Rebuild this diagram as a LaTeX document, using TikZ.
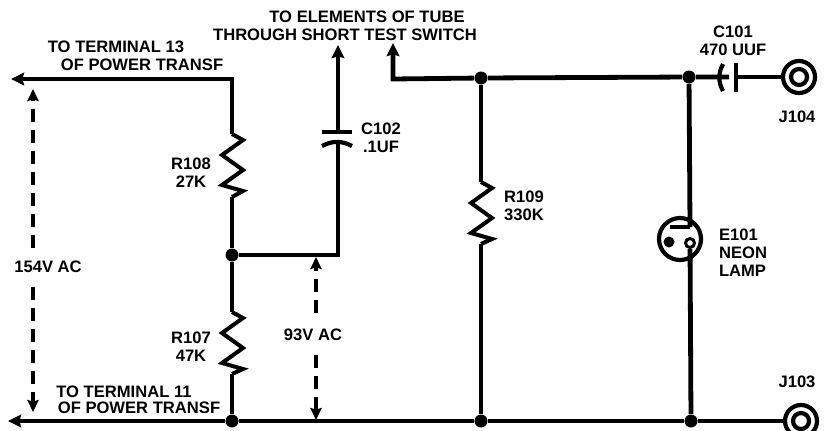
\documentclass[tikz,border=0pt]{standalone}
\usepackage{fontspec}
\setmainfont{Liberation Sans}
\usepackage{tikz}
\usetikzlibrary{arrows.meta}

\begin{document}
\begin{tikzpicture}[x=0.5pt,y=-0.5pt,
  wire/.style={line width=2.4pt,line join=miter},
  wire tip/.style={wire,-{Stealth[length=6.5pt,width=6.2pt,inset=0.8pt]}},
  volt/.style={line width=2.1pt,dash pattern=on 6.5pt off 4pt,-{Stealth[length=6pt,width=5.6pt,inset=0.8pt]}},
  plate/.style={line width=2.1pt},
  res/.style={line width=2pt,line join=miter},
  ring/.style={circle,draw,line width=2.1pt,inner sep=0pt},
  dot/.style={circle,fill,inner sep=0pt,minimum size=6.5pt},
  label/.style={font=\fontsize{8.3}{9}\selectfont\bfseries,inner sep=0pt,align=center}]

\useasboundingbox (0,0) rectangle (838,430);

% junctions and jacks
\node[dot] (n1) at (232,255) {};
\node[dot] (n2) at (232,421) {};
\node[dot] (n3) at (481,78) {};
\node[dot] (n4) at (481,421) {};
\node[dot] (n5) at (689,77) {};
\node[dot] (n6) at (691,421) {};
\node[ring,minimum size=16pt] (j104) at (799,77) {};
\node[ring,minimum size=8pt] (j104i) at (799,77) {};
\node[ring,minimum size=16pt] (j103) at (801,421) {};
\node[ring,minimum size=8pt] (j103i) at (801,421) {};

% free ends
\coordinate (t13) at (11,79);
\coordinate (t11) at (8,421);
\coordinate (tl) at (232,79);
\coordinate (a1) at (338,45);
\coordinate (a2) at (393,43);
\coordinate (a3) at (393,79);
\coordinate (c2a) at (338,132);
\coordinate (c2b) at (338,142);
\coordinate (c2c) at (338,255);
\coordinate (c1a) at (729,77);
\coordinate (c1b) at (736,77);

% resistors
\foreach \name/\x/\y/\h in {r108/232/134/63,r107/232/312/62,r109/481/182/62}{
  \coordinate (\name a) at (\x,\y);
  \coordinate (\name b) at (\x,\y+\h);
  \draw[res] (\name a) -- ++(11,6) -- ++(-21,15) -- ++(21,15) -- ++(-21,15) -- ++(21,6) -- (\name b);
}

% wires
\draw[wire tip] (r108a) -- (tl) -- (t13);
\draw[wire] (r108b) -- (n1) -- (r107a);
\draw[wire] (r107b) -- (n2);
\draw[wire tip] (n2) -- (t11);
\draw[wire] (n2) -- (n4) -- (n6) -- (j103);
\draw[wire tip] (c2a) -- (a1);
\draw[wire] (n1) -- (c2c) -- (c2b);
\draw[wire tip] (n3) -- (a3) -- (a2);
\draw[wire] (n3) -- (n5) -- (c1a);
\draw[wire] (c1b) -- (j104);
\draw[wire] (n3) -- (r109a);
\draw[wire] (r109b) -- (n4);

% capacitors
\draw[plate] (322,132) -- (352,132);
\draw[plate] (322,146) to[bend left=28] (352,146);
\draw[plate] (736,63) -- (736,92);
\draw[plate] (723,64) to[bend right=28] (723,91);

% lamp
\node[ring,minimum size=21pt] (e101) at (680,239) {};
\node[dot,minimum size=5.5pt] (e101k) at (669,242) {};
\node[ring,line width=1.5pt,minimum size=4.5pt] (e101a) at (690,243) {};
\coordinate (e101t) at (690,227);
\coordinate (e101l) at (670,227);
\draw[wire] (n5) -- (e101t);
\draw[plate] (e101t) -- (e101l);
\draw[wire] (e101a) -- (n6);

% voltages
\node[label] (v154) at (48,267) {154V AC};
\node[label] (v93) at (313,335) {93V AC};
\coordinate (v154t) at (33,89);
\coordinate (v154b) at (33,412);
\coordinate (v93t) at (316,257);
\coordinate (v93b) at (316,420);
\draw[volt] (33,248) -- (v154t);
\draw[volt] (33,287) -- (v154b);
\draw[volt] (316,313) -- (v93t);
\draw[volt] (316,355) -- (v93b);

% labels
\node[label] (l1) at (367,17) {TO ELEMENTS OF TUBE};
\node[label] (l2) at (345,35) {THROUGH SHORT TEST SWITCH};
\node[label] (l3) at (116,47) {TO TERMINAL 13};
\node[label] (l4) at (142,65) {OF POWER TRANSF};
\node[label] (l5) at (124,392) {TO TERMINAL 11};
\node[label] (l6) at (139,408) {OF POWER TRANSF};
\node[label] (l7) at (191,173) {R108\\27K};
\node[label] (l8) at (191,347) {R107\\47K};
\node[label] (l9) at (381,138) {C102\\.1UF};
\node[label] (l10) at (524,206) {R109\\330K};
\node[label] (l11) at (733,41) {C101\\470 UUF};
\node[label] (l12) at (797,117) {J104};
\node[label] (l13) at (797,382) {J103};
\node[label,align=left] (l14) at (743,253) {E101\\NEON\\LAMP};

\end{tikzpicture}
\end{document}
